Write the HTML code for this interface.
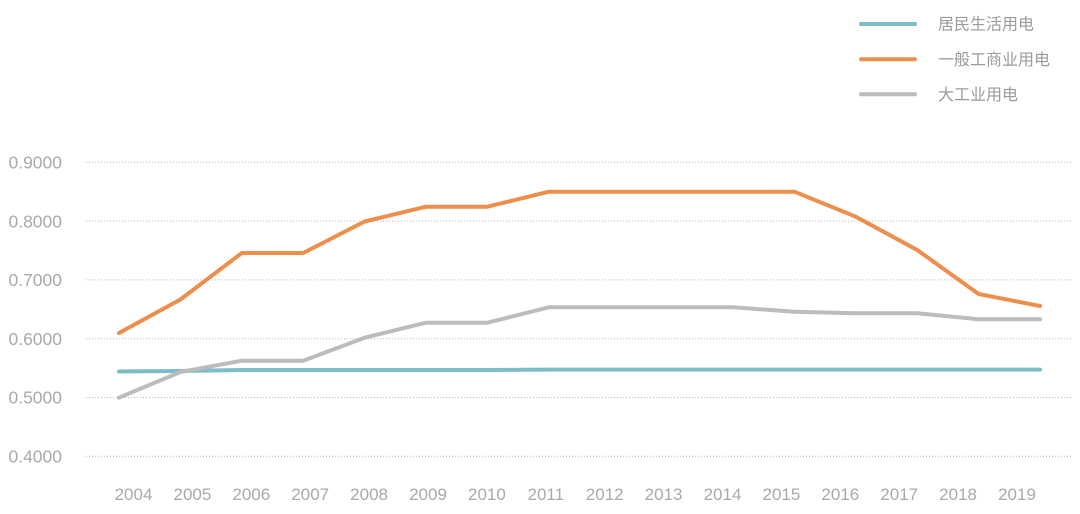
<!DOCTYPE html>
<html>
<head>
<meta charset="utf-8">
<style>
  html,body{margin:0;padding:0;background:#fff;}
  body{width:1080px;height:514px;overflow:hidden;}
  svg{display:block;}
  .ylab{font-family:"Liberation Sans",sans-serif;font-size:17.5px;fill:#a9a9a9;}
  .xlab{font-family:"Liberation Sans",sans-serif;font-size:17px;fill:#a9a9a9;}
  .leg{font-family:"Liberation Sans","Noto Sans CJK SC",sans-serif;font-size:16px;fill:#9a9a9a;}
</style>
</head>
<body>
<svg width="1080" height="514" viewBox="0 0 1080 514" xmlns="http://www.w3.org/2000/svg">
  <!-- gridlines -->
  <g stroke="#b5b5b5" stroke-width="1" stroke-dasharray="1 2">
    <line x1="86" y1="162.3" x2="1073" y2="162.3"/>
    <line x1="86" y1="221.1" x2="1073" y2="221.1"/>
    <line x1="86" y1="279.9" x2="1073" y2="279.9"/>
    <line x1="86" y1="338.7" x2="1073" y2="338.7"/>
    <line x1="86" y1="397.5" x2="1073" y2="397.5"/>
    <line x1="86" y1="456.3" x2="1073" y2="456.3"/>
  </g>
  <!-- y labels -->
  <g class="ylab" text-anchor="end">
    <text x="62" y="168.5">0.9000</text>
    <text x="62" y="227.3">0.8000</text>
    <text x="62" y="286.1">0.7000</text>
    <text x="62" y="344.9">0.6000</text>
    <text x="62" y="403.7">0.5000</text>
    <text x="62" y="462.5">0.4000</text>
  </g>
  <!-- x labels -->
  <g class="xlab" text-anchor="middle">
    <text x="133.5" y="500">2004</text>
    <text x="192.4" y="500">2005</text>
    <text x="251.3" y="500">2006</text>
    <text x="310.2" y="500">2007</text>
    <text x="369.1" y="500">2008</text>
    <text x="428.0" y="500">2009</text>
    <text x="486.9" y="500">2010</text>
    <text x="545.8" y="500">2011</text>
    <text x="604.7" y="500">2012</text>
    <text x="663.6" y="500">2013</text>
    <text x="722.5" y="500">2014</text>
    <text x="781.4" y="500">2015</text>
    <text x="840.3" y="500">2016</text>
    <text x="899.2" y="500">2017</text>
    <text x="958.1" y="500">2018</text>
    <text x="1017.0" y="500">2019</text>
  </g>
  <!-- series -->
  <g fill="none" stroke-width="4" stroke-linejoin="round" stroke-linecap="round">
    <polyline stroke="#7dbdc8" points="119,371.5 180.4,371 241.8,370 303.2,370 364.6,370 426,370 487.4,370 548.8,369.6 610.2,369.6 671.6,369.6 733,369.6 794.4,369.6 855.8,369.6 917.2,369.6 978.6,369.6 1040,369.6"/>
    <polyline stroke="#bcbcbc" points="119,397.7 180.4,372 241.8,360.7 303.2,360.7 364.6,337.7 426,322.7 487.4,322.7 548.8,307.3 610.2,307.3 671.6,307.3 733,307.3 794.4,311.7 855.8,313.3 917.2,313.3 978.6,319.3 1040,319.3"/>
    <polyline stroke="#ee8e4c" points="119,333 180.4,299.5 241.8,253 303.2,253 364.6,221.5 426,206.7 487.4,206.7 548.8,191.7 610.2,191.7 671.6,191.7 733,191.7 794.4,191.7 855.8,216.7 917.2,250 978.6,294 1040,306"/>
  </g>
  <!-- legend -->
  <g stroke-width="4" stroke-linecap="round">
    <line x1="861" y1="24" x2="915" y2="24" stroke="#7dbdc8"/>
    <line x1="861" y1="59.3" x2="915" y2="59.3" stroke="#ee8e4c"/>
    <line x1="861" y1="94.3" x2="915" y2="94.3" stroke="#bcbcbc"/>
  </g>
  <g class="leg">
    <text x="938" y="29.5">居民生活用电</text>
    <text x="938" y="64.8">一般工商业用电</text>
    <text x="938" y="99.8">大工业用电</text>
  </g>
</svg>
</body>
</html>
